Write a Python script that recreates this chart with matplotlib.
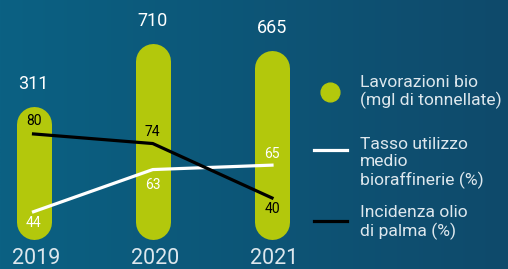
import numpy as np
import matplotlib
matplotlib.use('Agg')
import matplotlib.pyplot as plt
from matplotlib.transforms import blended_transform_factory
from matplotlib.lines import Line2D

years = ['2019', '2020', '2021']
lavorazioni = [311, 710, 665]
tasso_utilizzo = [44, 63, 65]
incidenza_palma = [80, 74, 40]

legend_labels = [
    'Lavorazioni bio\n(mgl di tonnellate)',
    'Tasso utilizzo\nmedio\nbioraffinerie (%)',
    'Incidenza olio\ndi palma (%)',
]

GREEN = '#b3c80c'
TEXT = '#dde7ed'
W, H = 508, 269

plt.rcParams['font.family'] = ['Roboto', 'DejaVu Sans']

fig = plt.figure(figsize=(W / 100, H / 100), dpi=100)

# background gradient
bg = fig.add_axes([0, 0, 1, 1], zorder=0)
left = np.array([11, 97, 131]) / 255
right = np.array([15, 74, 107]) / 255
t = np.linspace(0, 1, 256)[None, :, None]
grad = left * (1 - t) + right * t
bg.imshow(grad, aspect='auto', extent=(0, W, H, 0))
bg.set_xlim(0, W)
bg.set_ylim(H, 0)
bg.axis('off')

x = np.arange(len(years))
xlim = (-0.281, 3.979)

# bars drawn as pills
ax = fig.add_axes([0, 0, 1, 1], zorder=1)
ax.patch.set_visible(False)
ax.set_xlim(*xlim)
ax.set_ylim(-604, 1096)
ax.axis('off')
bar_base = -310
for xi, v in zip(x, lavorazioni):
    ax.plot([xi, xi], [bar_base, v], color=GREEN, lw=25.2,
            solid_capstyle='round', zorder=1)
    ax.annotate(str(v), (xi, v), xytext=(0, 28.8), textcoords='offset points',
                ha='center', va='center', color='white', fontsize=13)

tr = blended_transform_factory(ax.transData, fig.transFigure)
for xi, yr in zip(x, years):
    ax.text(xi + 0.02, 1 - 259 / H, yr, transform=tr, ha='center',
            va='center', color=TEXT, fontsize=15.5)

# white line: tasso utilizzo
axw = fig.add_axes([0, 0, 1, 1], zorder=2)
axw.patch.set_visible(False)
axw.set_xlim(*xlim)
axw.set_ylim(18.2, 139.4)
axw.axis('off')
axw.plot(x, tasso_utilizzo, color='white', lw=2.3)
for xi, v, off in zip(x, tasso_utilizzo, [-8, -11, 8]):
    axw.annotate(str(v), (xi, v), xytext=(0, off), textcoords='offset points',
                 ha='center', va='center', color='white', fontsize=10)

# black line: incidenza olio di palma
axb = fig.add_axes([0, 0, 1, 1], zorder=3)
axb.patch.set_visible(False)
axb.set_xlim(*xlim)
axb.set_ylim(-4.4, 163.7)
axb.axis('off')
axb.plot(x, incidenza_palma, color='black', lw=2.3)
for xi, v, off in zip(x, incidenza_palma, [9.4, 8.6, -8]):
    axb.annotate(str(v), (xi, v), xytext=(0, off), textcoords='offset points',
                 ha='center', va='center', color='black', fontsize=10)

# legend
lg = fig.add_axes([0, 0, 1, 1], zorder=4)
lg.patch.set_visible(False)
lg.set_xlim(0, W)
lg.set_ylim(H, 0)
lg.axis('off')
lg.plot([330], [92], 'o', color=GREEN, markersize=13.5)
lg.add_line(Line2D([314, 347], [150, 150], color='white', lw=2.3))
lg.add_line(Line2D([314, 347], [221, 221], color='black', lw=2.3))
for label, yc in zip(legend_labels, [92, 163, 222.5]):
    lg.text(360, yc, label, ha='left', va='center', color=TEXT,
            fontsize=12.6, linespacing=1.2)

fig.savefig('out.png', dpi=100)
